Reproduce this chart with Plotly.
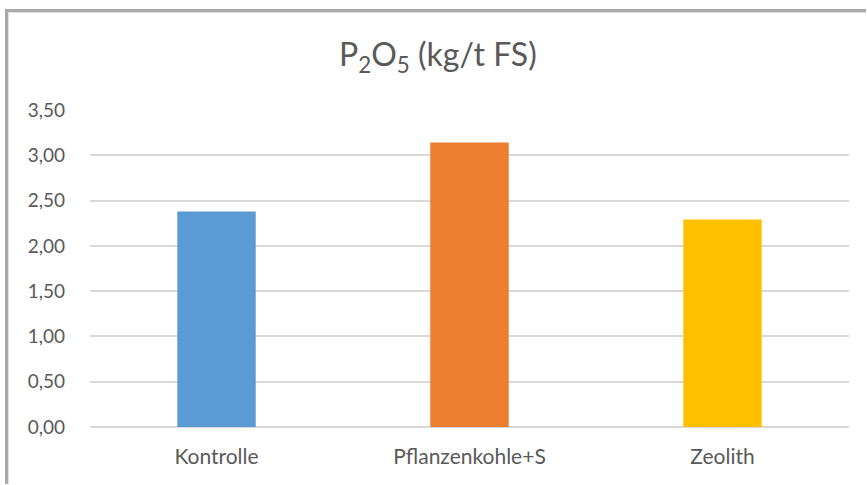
import plotly.graph_objects as go

categories = ["Kontrolle", "Pflanzenkohle+S", "Zeolith"]
values = [2.38, 3.14, 2.29]
bar_colors = ["#5b9bd5", "#ed7d31", "#ffc000"]
y_ticks = [0, 0.5, 1.0, 1.5, 2.0, 2.5, 3.0, 3.5]

W, H = 867, 485
L, R, T, B = 90, 18, 110, 58
pw, ph = W - L - R, H - T - B
FONT = "Lato, Open Sans, sans-serif"


def px_x(px):
    return (px - L) / pw


def px_y(py):
    return (H - B - py) / ph


fig = go.Figure(
    go.Bar(
        x=categories,
        y=values,
        marker=dict(color=bar_colors, line=dict(width=0)),
        width=0.31,
    )
)

fig.update_layout(
    width=W,
    height=H,
    margin=dict(l=L, r=R, t=T, b=B, autoexpand=False),
    paper_bgcolor="white",
    plot_bgcolor="white",
    separators=",.",
    showlegend=False,
    font=dict(family=FONT, color="#595959"),
    xaxis=dict(
        showgrid=False,
        showline=False,
        ticks="",
        tickfont=dict(size=21, color="#595959", family=FONT),
        ticklabelstandoff=15,
    ),
    yaxis=dict(
        range=[0, 3.5],
        tickvals=y_ticks,
        tickformat=".2f",
        showgrid=True,
        gridcolor="#d9d9d9",
        gridwidth=2,
        zeroline=True,
        zerolinecolor="#d9d9d9",
        zerolinewidth=2,
        showline=False,
        ticks="",
        tickfont=dict(size=19, color="#595959", family=FONT),
        ticklabelstandoff=24,
    ),
    annotations=[
        dict(
            text="P<sub>2</sub>O<sub>5</sub> (kg/t FS)",
            x=px_x(438),
            y=px_y(56),
            xref="paper",
            yref="paper",
            xanchor="center",
            yanchor="middle",
            showarrow=False,
            font=dict(size=32, color="#595959", family=FONT),
        )
    ],
    shapes=[
        # chart frame: grey border along the left and top edges
        dict(type="line", xref="paper", yref="paper",
             x0=px_x(6.5), x1=px_x(6.5), y0=px_y(9), y1=px_y(H - 1),
             line=dict(color="#a9a9a9", width=3)),
        dict(type="line", xref="paper", yref="paper",
             x0=px_x(5), x1=px_x(W - 1), y0=px_y(10.5), y1=px_y(10.5),
             line=dict(color="#a9a9a9", width=3)),
        dict(type="line", xref="paper", yref="paper",
             x0=px_x(8.5), x1=px_x(8.5), y0=px_y(12), y1=px_y(H - 1),
             line=dict(color="#e2e2e2", width=1)),
        dict(type="line", xref="paper", yref="paper",
             x0=px_x(8), x1=px_x(W - 1), y0=px_y(12.5), y1=px_y(12.5),
             line=dict(color="#e2e2e2", width=1)),
    ],
)

fig.write_html("out.html")
